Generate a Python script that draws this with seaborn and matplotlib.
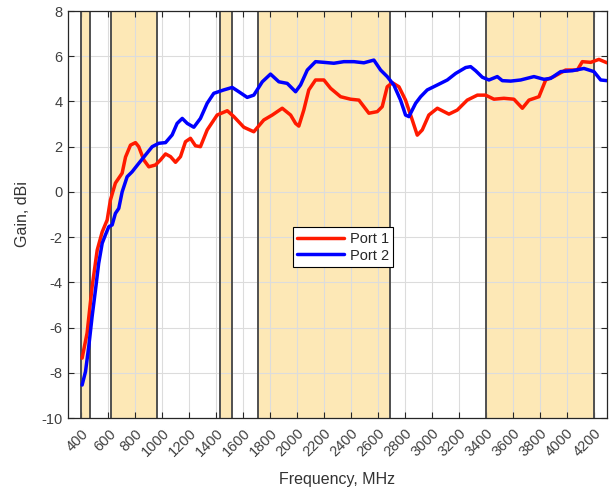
import numpy as np
import pandas as pd
import matplotlib
matplotlib.use("Agg")
import matplotlib.pyplot as plt
import seaborn as sns

# ---- data ----
freq_p1 = [405, 442, 479, 517, 554, 591, 615, 652, 702, 727, 764, 801, 825, 863, 900, 949, 986,
           1024, 1061, 1098, 1135, 1172, 1209, 1246, 1283, 1333, 1407, 1482, 1531, 1605, 1679,
           1753, 1816, 1890, 1952, 1989, 2013, 2050, 2087, 2137, 2199, 2249, 2323, 2397, 2459,
           2496, 2533, 2595, 2632, 2669, 2707, 2756, 2805, 2855, 2892, 2929, 2978, 3041, 3127,
           3189, 3263, 3338, 3399, 3461, 3535, 3609, 3672, 3721, 3795, 3845, 3906, 3993, 4080,
           4117, 4179, 4240, 4300]
gain_p1 = [-7.35, -6.24, -4.2, -2.57, -1.77, -1.24, -0.36, 0.39, 0.83, 1.54, 2.07, 2.18, 2.0,
           1.41, 1.11, 1.19, 1.41, 1.68, 1.56, 1.31, 1.56, 2.22, 2.37, 2.04, 2.0, 2.74, 3.4,
           3.59, 3.33, 2.86, 2.66, 3.18, 3.4, 3.7, 3.4, 3.03, 2.91, 3.62, 4.51, 4.95, 4.95,
           4.58, 4.21, 4.1, 4.06, 3.77, 3.48, 3.55, 3.77, 4.65, 4.83, 4.65, 4.06, 3.18, 2.51,
           2.74, 3.4, 3.7, 3.44, 3.62, 4.06, 4.28, 4.28, 4.1, 4.14, 4.1, 3.7, 4.06, 4.21, 4.95,
           5.1, 5.39, 5.39, 5.76, 5.73, 5.86, 5.71]

freq_p2 = [405, 430, 454, 479, 504, 528, 554, 578, 603, 628, 652, 677, 702, 739, 776, 825, 875,
           925, 974, 1024, 1073, 1110, 1148, 1185, 1234, 1283, 1333, 1382, 1456, 1519, 1568,
           1630, 1679, 1742, 1803, 1865, 1927, 1989, 2026, 2076, 2137, 2199, 2273, 2347, 2422,
           2496, 2570, 2620, 2669, 2718, 2768, 2805, 2830, 2880, 2917, 2966, 3041, 3115, 3177,
           3251, 3288, 3325, 3375, 3424, 3486, 3523, 3585, 3659, 3758, 3832, 3882, 3956, 4043,
           4129, 4203, 4253, 4300]
gain_p2 = [-8.54, -7.95, -6.85, -5.52, -4.34, -3.16, -2.27, -1.9, -1.54, -1.46, -0.95, -0.73,
           0.0, 0.67, 0.89, 1.26, 1.63, 2.0, 2.15, 2.18, 2.52, 3.03, 3.25, 3.03, 2.86, 3.25,
           3.92, 4.36, 4.51, 4.62, 4.43, 4.18, 4.28, 4.87, 5.21, 4.87, 4.8, 4.43, 4.73, 5.39,
           5.76, 5.73, 5.69, 5.76, 5.76, 5.71, 5.83, 5.39, 5.1, 4.73, 4.06, 3.4, 3.33, 3.92,
           4.21, 4.51, 4.73, 4.95, 5.24, 5.5, 5.54, 5.36, 5.07, 4.95, 5.1, 4.92, 4.9, 4.95,
           5.1, 4.98, 5.02, 5.32, 5.36, 5.46, 5.32, 4.95, 4.92]

bands = [(400, 460), (617, 960), (1427, 1518), (1710, 2690), (3400, 4200)]
series_names = ["Port 1", "Port 2"]
xticks = list(range(400, 4201, 200))
yticks = list(range(-10, 9, 2))

df = pd.concat([
    pd.DataFrame({"Frequency": freq_p1, "Gain": gain_p1, "Port": series_names[0]}),
    pd.DataFrame({"Frequency": freq_p2, "Gain": gain_p2, "Port": series_names[1]}),
])

sns.set_style("white")
plt.rcParams['font.family'] = ['Liberation Sans', 'DejaVu Sans']

fig = plt.figure(figsize=(6.14, 4.94), dpi=100)
ax = fig.add_axes([0.1107, 0.1538, 0.8779, 0.8239])

for a, b in bands:
    ax.axvspan(a, b, color='#FDE8B6', zorder=0.1, lw=0)
    ax.axvline(a, color='#505050', lw=1.4, zorder=0.6)
    ax.axvline(b, color='#505050', lw=1.4, zorder=0.6)

sns.lineplot(data=df, x="Frequency", y="Gain", hue="Port",
             palette={"Port 1": "#FF1A00", "Port 2": "#0000FF"},
             linewidth=2.5, ax=ax, sort=False, estimator=None, zorder=3)

ax.set_xlim(300, 4300)
ax.set_ylim(-10, 8)
ax.set_xticks(xticks)
ax.set_xticklabels([str(t) for t in xticks], rotation=45, ha='right',
                   rotation_mode='anchor', fontsize=10.5, color='#404040')
ax.set_yticks(yticks)
ax.set_yticklabels([str(t) for t in yticks], fontsize=10.5, color='#404040')
ax.tick_params(direction='in', top=True, right=True, length=4, width=0.8,
               color='#262626', bottom=True, left=True, pad=4)
ax.tick_params(axis='x', pad=6)
ax.set_axisbelow(True)
ax.grid(True, color='#dcdcdc', lw=0.8)
for s in ax.spines.values():
    s.set_color('#262626')
    s.set_linewidth(0.9)

ax.set_xlabel("Frequency, MHz", fontsize=11.5, color='#333333', labelpad=9)
ax.set_ylabel("Gain, dBi", fontsize=11.5, color='#333333', labelpad=8)

leg = ax.legend(loc='center', bbox_to_anchor=(0.51, 0.42), fontsize=10.5,
                frameon=True, fancybox=False, edgecolor='black', framealpha=1,
                handlelength=3.2, borderpad=0.3, labelspacing=0.2, handletextpad=0.4)
leg.get_frame().set_linewidth(0.8)

fig.savefig("out.png", dpi=100)
